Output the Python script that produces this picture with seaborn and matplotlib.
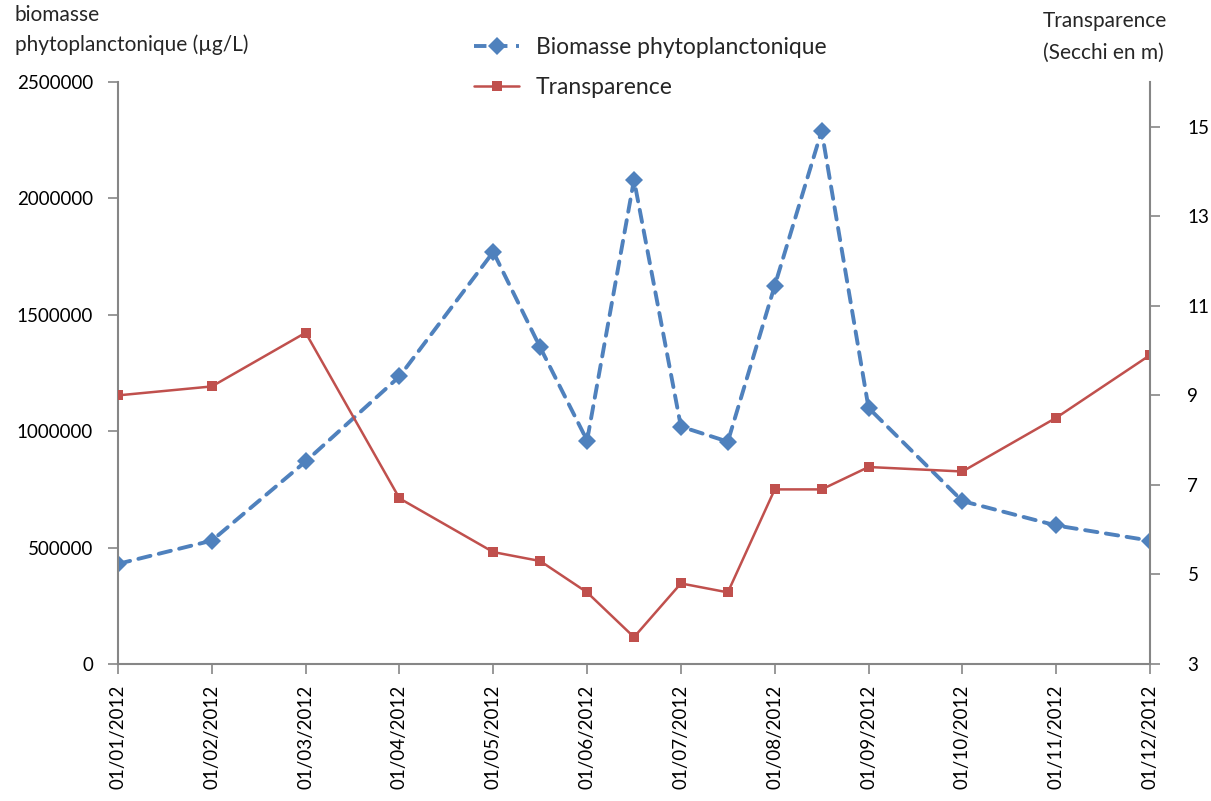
import numpy as np
import pandas as pd
import matplotlib
matplotlib.use("Agg")
import matplotlib.pyplot as plt
import seaborn as sns
from matplotlib.lines import Line2D

# Sampling dates (first of each month, plus mid-month samples in summer)
dates = ["01/01/2012", "01/02/2012", "01/03/2012", "01/04/2012", "01/05/2012",
         "15/05/2012", "01/06/2012", "15/06/2012", "01/07/2012", "15/07/2012",
         "01/08/2012", "15/08/2012", "01/09/2012", "01/10/2012", "01/11/2012",
         "01/12/2012"]
# Position on the time axis, in months from 01/01/2012
month_pos = [0, 1, 2, 3, 4, 4.5, 5, 5.5, 6, 6.5, 7, 7.5, 8, 9, 10, 11]

biomasse = [430000, 530000, 870000, 1235000, 1770000, 1360000, 960000, 2080000,
            1020000, 955000, 1625000, 2290000, 1100000, 700000, 595000, 530000]
transparence = [9.0, 9.2, 10.4, 6.7, 5.5, 5.3, 4.6, 3.6, 4.8, 4.6, 6.9, 6.9,
                7.4, 7.3, 8.5, 9.9]

tick_pos = list(range(12))
tick_labels = ["01/01/2012", "01/02/2012", "01/03/2012", "01/04/2012",
               "01/05/2012", "01/06/2012", "01/07/2012", "01/08/2012",
               "01/09/2012", "01/10/2012", "01/11/2012", "01/12/2012"]

df = pd.DataFrame({"date": dates, "pos": month_pos,
                   "biomasse": biomasse, "transparence": transparence})

sns.set_theme(style="white")
plt.rcParams["font.family"] = ["Lato", "DejaVu Sans"]

BLUE = "#4F81BD"
RED = "#C0504D"
AXIS = "#868686"
FS = 13.5
TITLE_FS = 15

fig = plt.figure(figsize=(12.11, 8.01), dpi=100)
ax = fig.add_axes([118 / 1211, 1 - 664 / 801, (1150 - 118) / 1211, (664 - 82) / 801])
ax2 = ax.twinx()

sns.lineplot(data=df, x="pos", y="biomasse", ax=ax, color=BLUE, linewidth=2.8,
             linestyle=(0, (3.2, 2.2)), marker="D", markersize=9,
             markeredgewidth=0, markerfacecolor=BLUE, sort=False,
             dash_capstyle="round")
sns.lineplot(data=df, x="pos", y="transparence", ax=ax2, color=RED, linewidth=1.8,
             marker="s", markersize=7.5, markeredgewidth=0,
             markerfacecolor=RED, sort=False)

ax.set_xlim(0, 11)
ax.set_ylim(0, 2500000)
ax.set_yticks(np.arange(0, 2500001, 500000))
ax.set_yticklabels([f"{int(v)}" for v in np.arange(0, 2500001, 500000)], fontsize=FS)
ax.set_xticks(tick_pos)
ax.set_xticklabels(tick_labels, rotation=90, fontsize=FS)
ax.set_xlabel("")
ax.set_ylabel("")

ax2.set_ylim(3, 16)
ax2.set_yticks([3, 5, 7, 9, 11, 13, 15])
ax2.set_yticklabels(["3", "5", "7", "9", "11", "13", "15"], fontsize=FS)
ax2.set_ylabel("")

for a in (ax, ax2):
    a.spines["top"].set_visible(False)
    a.grid(False)

ax.spines["right"].set_visible(False)
ax2.spines["left"].set_visible(False)
ax2.spines["bottom"].set_visible(False)
for sp in (ax.spines["left"], ax.spines["bottom"], ax2.spines["right"]):
    sp.set_color(AXIS)
    sp.set_linewidth(1.5)

ax.tick_params(axis="y", direction="out", length=7, width=1.2, color=AXIS,
               left=True, pad=11, labelcolor="black")
ax.tick_params(axis="x", direction="out", length=7, width=1.2, color=AXIS,
               bottom=True, pad=8, labelcolor="black")
ax2.tick_params(axis="y", direction="out", length=7, width=1.2, color=AXIS,
                right=True, pad=20, labelcolor="black")

fig.text(15 / 1211, 1 - 5 / 801, "biomasse\nphytoplanctonique (µg/L)",
         ha="left", va="top", fontsize=TITLE_FS, linespacing=1.55)
fig.text(1043 / 1211, 1 - 11 / 801, "Transparence\n(Secchi en m)",
         ha="left", va="top", fontsize=TITLE_FS, linespacing=1.75)

handles = [
    Line2D([], [], color=BLUE, linewidth=2.8, linestyle=(0, (3.2, 2.2)),
           marker="D", markersize=9, markeredgewidth=0),
    Line2D([], [], color=RED, linewidth=1.8, marker="s", markersize=7.5,
           markeredgewidth=0),
]
fig.legend(handles, ["Biomasse phytoplanctonique", "Transparence"],
           loc="upper left", bbox_to_anchor=(453 / 1211, 1 - 16 / 801),
           frameon=False, fontsize=16.5, handlelength=2.0,
           labelspacing=0.85, handletextpad=0.7)

fig.savefig("out.png", dpi=100)
